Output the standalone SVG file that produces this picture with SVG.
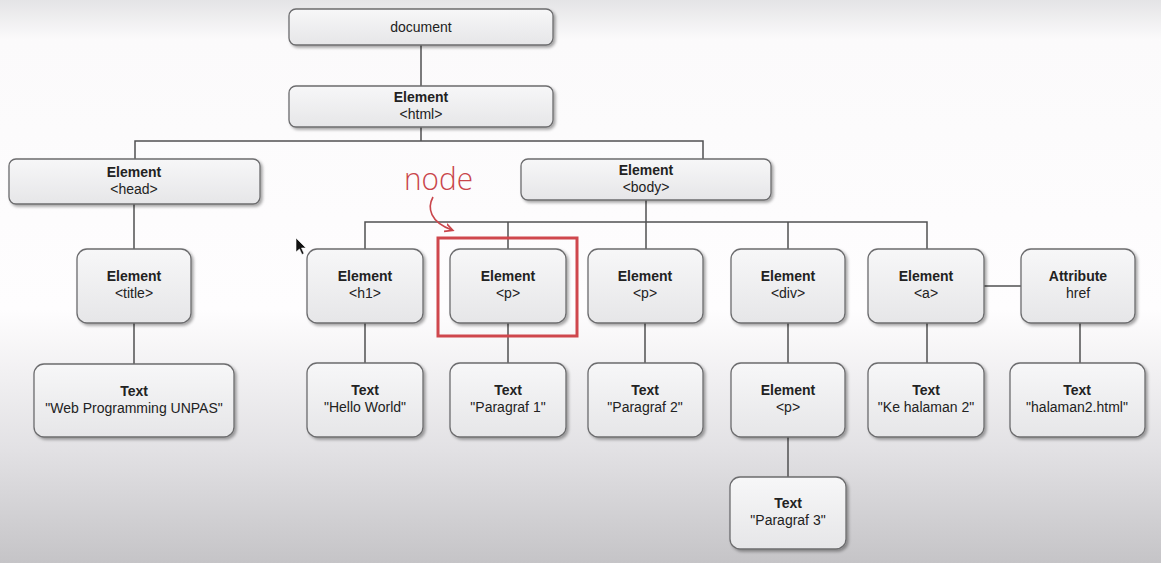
<svg xmlns="http://www.w3.org/2000/svg" width="1161" height="563" viewBox="0 0 1161 563">
<defs>
<linearGradient id="bg" x1="0" y1="0" x2="0" y2="1">
<stop offset="0" stop-color="#e4e4e6"/>
<stop offset="0.07" stop-color="#fbfafb"/>
<stop offset="0.55" stop-color="#fefdfe"/>
<stop offset="0.8" stop-color="#e2e1e4"/>
<stop offset="1" stop-color="#c5c4c7"/>
</linearGradient>
<linearGradient id="box" x1="0" y1="0" x2="0" y2="1">
<stop offset="0" stop-color="#f7f7f8"/>
<stop offset="1" stop-color="#e6e6e8"/>
</linearGradient>
<filter id="sh" x="-10%" y="-10%" width="130%" height="140%">
<feDropShadow dx="2" dy="2" stdDeviation="1.4" flood-color="#000" flood-opacity="0.35"/>
</filter>
<marker id="ah" markerWidth="10" markerHeight="10" refX="7" refY="5" orient="auto" markerUnits="userSpaceOnUse">
<path d="M0,1 L8,5 L0,9" fill="none" stroke="#c9454b" stroke-width="1.6"/>
</marker>
<style>
.n rect{fill:url(#box);stroke:#6c6c6e;stroke-width:1.3;filter:url(#sh)}
.n text{font-family:"Liberation Sans",Arial,sans-serif;font-size:14px;fill:#222;text-anchor:middle}
.n .b{font-weight:bold}
#connectors path{fill:none;stroke:#505052;stroke-width:1.5}
</style>
</defs>
<rect x="0" y="0" width="1161" height="563" fill="url(#bg)"/>

<g id="connectors">
<path d="M421,45 V86"/>
<path d="M421,127 V141 M135,159 V141 H703 V159"/>
<path d="M134,204 V249 M134,323 V364"/>
<path d="M646,200 V222 M365,249 V222 H927 V249 M508,222 V249 M646,222 V249 M788,222 V249"/>
<path d="M365,323 V363 M508,323 V363 M645,323 V363 M788,323 V363 M788,437 V477 M927,323 V363"/>
<path d="M984,286 H1021 M1080,323 V363"/>
</g>

<g id="document" class="n"><rect x="289" y="9" width="264" height="36" rx="7"/><text x="421" y="32">document</text></g>
<g id="html" class="n"><rect x="289" y="86" width="264" height="41" rx="7"/><text class="b" x="421" y="102">Element</text><text x="421" y="119">&lt;html&gt;</text></g>
<g id="head" class="n"><rect x="9" y="159" width="251" height="45" rx="7"/><text class="b" x="134" y="177">Element</text><text x="134" y="194">&lt;head&gt;</text></g>
<g id="body" class="n"><rect x="521" y="159" width="250" height="41" rx="7"/><text class="b" x="646" y="175">Element</text><text x="646" y="192">&lt;body&gt;</text></g>
<g id="title" class="n"><rect x="77" y="249" width="114" height="74" rx="10"/><text class="b" x="134" y="281">Element</text><text x="134" y="298">&lt;title&gt;</text></g>
<g id="text-web" class="n"><rect x="34" y="364" width="200" height="73" rx="10"/><text class="b" x="134" y="396">Text</text><text x="134" y="413">"Web Programming UNPAS"</text></g>
<g id="h1" class="n"><rect x="307" y="249" width="116" height="74" rx="10"/><text class="b" x="365" y="281">Element</text><text x="365" y="298">&lt;h1&gt;</text></g>
<g id="p1" class="n"><rect x="450" y="249" width="116" height="74" rx="10"/><text class="b" x="508" y="281">Element</text><text x="508" y="298">&lt;p&gt;</text></g>
<g id="p2" class="n"><rect x="588" y="249" width="115" height="74" rx="10"/><text class="b" x="645" y="281">Element</text><text x="645" y="298">&lt;p&gt;</text></g>
<g id="div" class="n"><rect x="731" y="249" width="114" height="74" rx="10"/><text class="b" x="788" y="281">Element</text><text x="788" y="298">&lt;div&gt;</text></g>
<g id="a" class="n"><rect x="868" y="249" width="116" height="74" rx="10"/><text class="b" x="926" y="281">Element</text><text x="926" y="298">&lt;a&gt;</text></g>
<g id="attr-href" class="n"><rect x="1021" y="249" width="114" height="74" rx="10"/><text class="b" x="1078" y="281">Attribute</text><text x="1078" y="298">href</text></g>
<g id="text-hello" class="n"><rect x="307" y="363" width="116" height="74" rx="10"/><text class="b" x="365" y="395">Text</text><text x="365" y="412">"Hello World"</text></g>
<g id="text-par1" class="n"><rect x="450" y="363" width="116" height="74" rx="10"/><text class="b" x="508" y="395">Text</text><text x="508" y="412">"Paragraf 1"</text></g>
<g id="text-par2" class="n"><rect x="588" y="363" width="115" height="74" rx="10"/><text class="b" x="645" y="395">Text</text><text x="645" y="412">"Paragraf 2"</text></g>
<g id="div-p" class="n"><rect x="731" y="363" width="114" height="74" rx="10"/><text class="b" x="788" y="395">Element</text><text x="788" y="412">&lt;p&gt;</text></g>
<g id="text-ke" class="n"><rect x="868" y="363" width="116" height="74" rx="10"/><text class="b" x="926" y="395">Text</text><text x="926" y="412">"Ke halaman 2"</text></g>
<g id="text-halaman" class="n"><rect x="1010" y="363" width="135" height="74" rx="10"/><text class="b" x="1077" y="395">Text</text><text x="1077" y="412">"halaman2.html"</text></g>
<g id="text-par3" class="n"><rect x="730" y="477" width="116" height="72" rx="10"/><text class="b" x="788" y="508">Text</text><text x="788" y="525">"Paragraf 3"</text></g>

<g id="annotation">
<rect x="438" y="238" width="139" height="98" fill="none" stroke="#cf474d" stroke-width="3"/>
<text x="404" y="190" font-family="'Open Sans','Liberation Sans',sans-serif" font-weight="300" font-size="32" fill="#c9454b" textLength="69" lengthAdjust="spacingAndGlyphs">node</text>
<path d="M433,197 C427,208 430,222 452,230" fill="none" stroke="#c9454b" stroke-width="1.6" marker-end="url(#ah)"/>
</g>
<path id="cursor" d="M296,238 L296,252 L299.5,249 L302,254.5 L304,253.5 L301.5,248 L306,248 Z" fill="#111" stroke="#fff" stroke-width="0.6"/>
</svg>
